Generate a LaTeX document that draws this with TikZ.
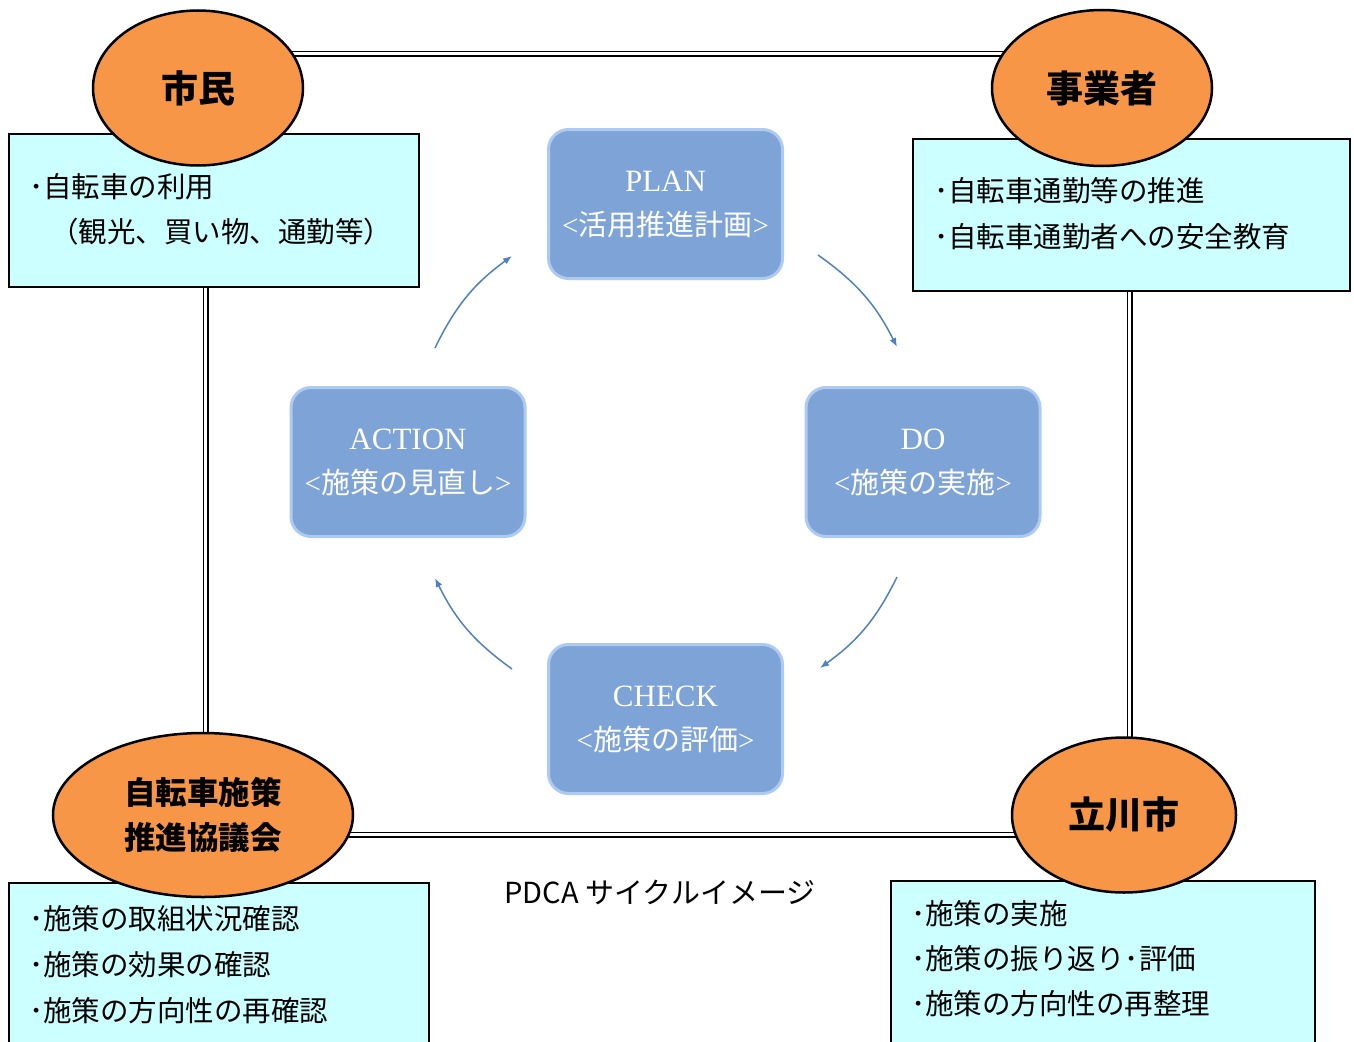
\documentclass[tikz,border=0pt]{standalone}
\usepackage{fontspec}
\setmainfont{Noto Sans CJK JP}
\newfontfamily\lser{Liberation Serif}
\usetikzlibrary{shapes.geometric,arrows.meta}
\definecolor{orng}{HTML}{F79646}
\definecolor{cyanbox}{HTML}{CCFFFF}
\definecolor{pdcafill}{HTML}{7EA3D7}
\definecolor{pdcaedge}{HTML}{ADCBF2}
\definecolor{arr}{HTML}{4F81BD}
\newcommand{\pdcatxt}[2]{{\lser\fontsize{31}{44}\selectfont #1}\\{\lser <}#2{\lser >}}
\begin{document}
\begin{tikzpicture}[x=1pt,y=-1pt,
 actor/.style={ellipse, draw=black, line width=2.5pt, fill=orng, inner sep=0pt, align=center, font=\fontsize{37}{45}\selectfont\bfseries},
 infobox/.style={rectangle, draw=black, line width=1.8pt, fill=cyanbox, inner sep=0pt, anchor=north west},
 infotext/.style={anchor=west, inner sep=0pt, font=\fontsize{28.5}{30}\selectfont},
 pdca/.style={rectangle, rounded corners=20pt, fill=pdcafill, draw=pdcaedge, line width=3pt, minimum width=234pt, minimum height=149pt, align=center, text=white, font=\fontsize{29}{44}\selectfont},
 cyc/.style={draw=arr, line width=1.5pt, -{Latex[length=9pt,width=7pt]}, bend left=14},
 frameline/.style={draw=black, double=white, line width=1.6pt, double distance=3pt}
]
\useasboundingbox (0,0) rectangle (1354,1041);
\clip (0,0) rectangle (1354,1041);
\fill[white] (0,0) rectangle (1354,1041);

% frame
\node[inner sep=0pt, minimum width=924pt, minimum height=781pt, frameline, anchor=north west] (frm) at (205,53) {};

% info boxes
\node[infobox, minimum width=410pt, minimum height=153pt] (b1) at (8,133) {};
\node[infobox, minimum width=437pt, minimum height=152pt] (b2) at (912,138) {};
\node[infobox, minimum width=420pt, minimum height=180pt] (b3) at (8,882) {};
\node[infobox, minimum width=424pt, minimum height=180pt] (b4) at (890,880) {};

\node[infotext] (t11) at (29,187) {･自転車の利用};
\node[infotext] (t12) at (50,232) {（観光、買い物、通勤等）};
\node[infotext] (t21) at (934,191) {･自転車通勤等の推進};
\node[infotext] (t22) at (934,237) {･自転車通勤者への安全教育};
\node[infotext] (t31) at (29,919) {･施策の取組状況確認};
\node[infotext] (t32) at (29,965) {･施策の効果の確認};
\node[infotext] (t33) at (29,1011) {･施策の方向性の再確認};
\node[infotext] (t41) at (911,914) {･施策の実施};
\node[infotext] (t42) at (911,959) {･施策の振り返り･評価};
\node[infotext] (t43) at (911,1004) {･施策の方向性の再整理};

% actors
\node[actor, minimum width=210pt, minimum height=155pt] (shimin) at (198,88) {市民};
\node[actor, minimum width=220pt, minimum height=156pt] (jigyo) at (1102,88) {事業者};
\node[actor, minimum width=300pt, minimum height=164pt, font=\fontsize{31.5}{45}\selectfont\bfseries] (kyogi) at (203,815) {自転車施策\\推進協議会};
\node[actor, minimum width=224pt, minimum height=155pt] (city) at (1124,815) {立川市};

% PDCA
\node[pdca] (plan) at (665.5,204) {\pdcatxt{PLAN}{活用推進計画}};
\node[pdca] (do) at (923,462) {\pdcatxt{DO}{施策の実施}};
\node[pdca] (act) at (408,462) {\pdcatxt{ACTION}{施策の見直し}};
\node[pdca] (chk) at (665.5,719) {\pdcatxt{CHECK}{施策の評価}};

% cycle arrows
\coordinate (pd1) at (818,255);
\coordinate (pd2) at (897,347);
\coordinate (dc1) at (897,577);
\coordinate (dc2) at (820,668);
\coordinate (ca1) at (512,669);
\coordinate (ca2) at (435,578);
\coordinate (ap1) at (435,348);
\coordinate (ap2) at (512,256);
\draw[cyc] (pd1) to (pd2);
\draw[cyc] (dc1) to (dc2);
\draw[cyc] (ca1) to (ca2);
\draw[cyc] (ap1) to (ap2);

% caption
\node[inner sep=0pt, font=\fontsize{29}{32}\selectfont] (cap) at (660,892) {PDCA サイクルイメージ};
\end{tikzpicture}
\end{document}
